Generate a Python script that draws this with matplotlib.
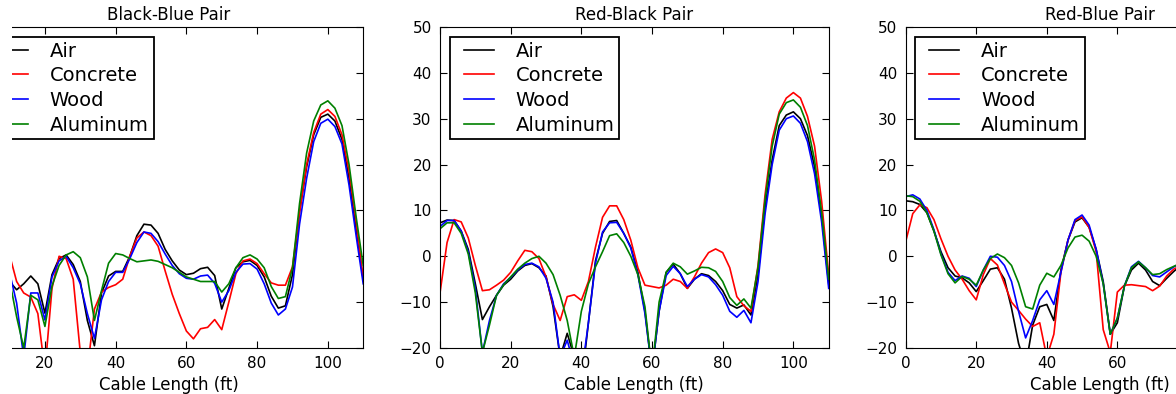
import matplotlib
matplotlib.use("Agg")
import matplotlib.pyplot as plt
from matplotlib.lines import Line2D
from matplotlib.legend_handler import HandlerLine2D
from matplotlib.patches import Rectangle


# legend labels and line colours (old matplotlib "classic" look)
MATERIALS = ["Air", "Concrete", "Wood", "Aluminum"]
COLORS = ["k", "r", "b", (0.0, 0.5, 0.0)]

# ---- Black-Blue Pair (left panel, cut at the left edge) ----
ft_black_blue = list(range(10, 111, 2))
bb_air = [-5.5, -7.3, -6.0, -4.3, -6.0, -12.4, -4.0, -0.5, 0.3, -1.8,
          -5.5, -14.0, -19.5, -8.0, -4.3, -3.3, -3.3, 0.0, 4.5, 7.0,
          6.8, 5.0, 1.5, -1.0, -3.0, -4.0, -3.7, -2.7, -2.4, -4.2,
          -11.5, -7.0, -2.5, -1.2, -0.9, -2.0, -4.5, -8.7, -11.3, -10.8,
          -4.0, 9.8, 19.5, 26.5, 30.3, 31.0, 29.5, 25.5, 17.0, 6.0, -5.0]
bb_concrete = [0.3, -5.5, -8.0, -8.9, -12.5, -25.0, -7.0, 0.0, -0.5, -5.0,
               -21.0, -25.0, -11.5, -7.8, -6.8, -6.2, -5.0, 0.0, 4.0, 5.3,
               4.5, 2.2, -3.2, -8.3, -12.5, -16.3, -18.0, -15.8, -15.5, -13.8,
               -16.0, -10.0, -3.8, -1.0, -0.6, -1.6, -3.8, -5.8, -6.3, -6.3,
               -2.3, 9.5, 20.0, 27.0, 31.0, 32.0, 30.5, 26.5, 18.5, 7.5, -5.0]
bb_wood = [-3.5, -10.2, -22.0, -8.0, -8.0, -13.9, -4.5, -1.0, 0.0, -2.5,
           -6.0, -12.5, -17.9, -9.5, -5.5, -3.5, -3.5, -0.5, 3.0, 5.3,
           5.0, 3.2, 0.5, -2.0, -3.8, -4.8, -5.0, -4.3, -4.1, -5.9,
           -10.0, -7.5, -3.5, -1.7, -1.6, -2.8, -6.0, -10.2, -12.8, -11.5,
           -6.7, 7.0, 17.0, 25.0, 29.0, 29.9, 28.3, 24.5, 15.5, 4.5, -6.0]
bb_aluminum = [-5.2, -13.2, -20.0, -8.5, -9.5, -15.3, -6.5, -2.0, 0.3, 1.0,
               -0.3, -4.5, -14.0, -7.5, -1.5, 0.6, 0.3, -0.5, -1.2, -1.0,
               -0.8, -1.1, -1.8, -2.5, -3.5, -4.5, -5.0, -5.5, -5.5, -5.5,
               -7.8, -6.0, -2.5, -0.3, 0.3, -0.6, -2.5, -6.6, -9.2, -8.8,
               -2.5, 11.5, 22.5, 29.5, 33.0, 33.9, 32.3, 28.5, 20.0, 8.6, -2.0]

# ---- Red-Black Pair (middle panel) ----
ft_red_black = list(range(0, 111, 2))
rb_air = [7.3, 7.9, 7.8, 5.5, 1.5, -6.0, -13.8, -11.0, -8.5, -6.3,
          -5.0, -3.2, -2.0, -1.6, -2.5, -4.3, -11.0, -22.0, -16.8, -22.0,
          -28.0, -14.5, -1.0, 5.0, 7.6, 7.8, 5.0, 2.0, -3.5, -12.0,
          -25.0, -12.0, -3.5, -1.7, -3.8, -7.0, -5.0, -3.8, -4.2, -5.5,
          -7.5, -10.5, -11.3, -10.6, -12.8, -4.0, 10.8, 21.0, 28.5, 30.8,
          31.5, 30.0, 26.3, 19.5, 9.0, -6.0]
rb_concrete = [-8.0, 3.0, 8.0, 7.5, 4.0, -2.0, -7.5, -7.3, -6.3, -5.2,
               -3.5, -1.0, 1.3, 1.0, -0.5, -4.5, -10.5, -14.0, -8.8, -8.4,
               -9.6, -5.5, 2.0, 8.5, 11.0, 11.0, 8.0, 3.5, -2.5, -6.3,
               -6.6, -6.9, -6.3, -5.0, -5.5, -7.0, -4.5, -1.5, 0.8, 1.6,
               0.8, -2.5, -8.8, -10.8, -12.0, -2.0, 13.5, 25.5, 31.5, 34.5,
               35.7, 34.5, 30.5, 24.0, 12.0, -4.0]
rb_wood = [6.5, 7.8, 7.8, 5.5, 1.0, -7.0, -21.0, -14.0, -8.5, -6.0,
           -4.6, -3.0, -1.8, -1.5, -2.3, -4.8, -10.0, -22.0, -18.3, -24.0,
           -26.0, -14.5, -1.5, 5.3, 7.3, 7.4, 5.0, 1.8, -4.0, -12.5,
           -25.0, -12.0, -4.2, -2.2, -3.8, -6.6, -5.0, -4.0, -4.5, -6.2,
           -8.5, -12.0, -13.3, -11.8, -14.5, -5.5, 9.3, 20.0, 27.5, 30.0,
           30.6, 29.0, 25.0, 18.0, 7.5, -7.0]
rb_aluminum = [6.0, 7.3, 7.3, 5.0, 0.5, -8.0, -21.0, -15.0, -8.5, -6.2,
               -4.5, -2.8, -1.5, -0.5, 0.0, -1.5, -4.0, -8.5, -14.0, -22.0,
               -12.0, -6.0, -2.3, 1.0, 4.5, 4.9, 3.0, 0.0, -4.0, -11.0,
               -25.0, -10.0, -3.5, -1.5, -2.3, -3.9, -3.2, -2.4, -2.5, -3.3,
               -5.5, -9.0, -10.7, -9.3, -11.3, -2.4, 12.3, 24.0, 31.0, 33.5,
               34.1, 32.5, 28.5, 21.0, 9.5, -5.0]

# ---- Red-Blue Pair (right panel, cut at the right edge) ----
ft_red_blue = list(range(0, 79, 2))
rbl_air = [12.1, 11.9, 11.3, 9.5, 5.5, 1.0, -2.5, -4.3, -4.7, -5.8,
           -7.7, -5.3, -2.8, -2.5, -5.0, -11.3, -19.0, -24.0, -15.0, -11.0,
           -10.5, -14.0, -3.0, 3.5, 7.5, 8.4, 6.3, 1.5, -5.5, -17.0,
           -14.5, -6.5, -3.0, -1.5, -3.0, -5.5, -6.4, -4.8, -3.3, -2.0]
rbl_concrete = [3.2, 9.3, 11.2, 10.6, 8.0, 3.8, 0.0, -3.0, -5.0, -7.5,
                -9.5, -4.0, -0.5, -1.9, -6.0, -10.0, -11.8, -13.7, -15.3, -14.5,
                -22.0, -17.0, -3.5, 3.5, 7.8, 8.6, 6.3, 1.0, -16.0, -21.0,
                -7.8, -6.3, -6.2, -6.4, -6.6, -7.5, -6.5, -4.3, -2.8, -2.0]
rbl_wood = [13.0, 13.4, 12.5, 10.0, 5.8, 0.5, -3.5, -5.3, -4.3, -4.8,
            -6.6, -3.0, 0.0, -0.2, -2.0, -5.5, -12.0, -17.8, -14.0, -9.5,
            -7.5, -10.5, -3.5, 3.5, 8.0, 9.0, 6.8, 1.5, -6.0, -17.0,
            -13.5, -6.5, -2.3, -1.1, -2.5, -4.2, -4.5, -3.4, -2.3, -1.5]
rbl_aluminum = [13.2, 13.0, 12.0, 9.5, 5.5, 0.3, -3.8, -5.8, -4.4, -5.0,
                -6.3, -3.0, -0.5, 0.5, -0.3, -2.0, -5.8, -11.0, -11.5, -6.3,
                -3.7, -4.5, -2.0, 1.8, 4.2, 4.6, 3.3, 0.0, -6.0, -17.0,
                -13.5, -6.5, -2.5, -1.2, -2.5, -4.0, -3.8, -2.9, -2.2, -1.5]

X_TICKS = [0, 20, 40, 60, 80, 100]
Y_TICKS = [-20, -10, 0, 10, 20, 30, 40, 50]


def draw_panel(fig, rect, ft, series, title, show_left=True, x_labels=X_TICKS):

    ax = fig.add_axes(rect)

    lines = []
    for values, color in zip(series, COLORS):
        line, = ax.plot(ft, values, color=color, lw=1.2)
        lines.append(line)

    ax.set_xlim(0, 110)
    ax.set_ylim(-20, 50)
    ax.set_xticks(X_TICKS)
    ax.set_xticklabels([str(t) if t in x_labels else "" for t in X_TICKS])
    ax.set_yticks(Y_TICKS)

    ax.tick_params(direction="in", top=True, right=True,
                   length=5, pad=6, labelsize=11, labelleft=show_left)
    ax.set_title(title, fontsize=12, pad=5)
    ax.set_xlabel("Cable Length (ft)", fontsize=12, labelpad=3)

    # line handle pushed right inside its box, like the old legend
    leg = ax.legend(lines, MATERIALS, loc="upper left",
                    fontsize=14, fancybox=False, framealpha=1,
                    edgecolor="k", borderaxespad=0.5, borderpad=0.25,
                    handlelength=2.01, handletextpad=1.13,
                    labelspacing=0.29,
                    handler_map={Line2D: HandlerLine2D(xpad=0.47)})
    leg.get_frame().set_linewidth(1.3)

    return ax


fig = plt.figure(figsize=(11.76, 3.94), dpi=100)
W, H = 1176.0, 394.0
bottom = (H - 348) / H
height = 321 / H

draw_panel(fig, [-25.8 / W, bottom, 389 / W, height], ft_black_blue,
           [bb_air, bb_concrete, bb_wood, bb_aluminum], "Black-Blue Pair",
           show_left=False, x_labels=[20, 40, 60, 80, 100])
draw_panel(fig, [440 / W, bottom, 388.7 / W, height], ft_red_black,
           [rb_air, rb_concrete, rb_wood, rb_aluminum], "Red-Black Pair")
draw_panel(fig, [905.7 / W, bottom, 388 / W, height], ft_red_blue,
           [rbl_air, rbl_concrete, rbl_wood, rbl_aluminum], "Red-Blue Pair",
           x_labels=[0, 20, 40, 60])

# the source image is cropped: blank strip on the far left
fig.add_artist(Rectangle((0, 0), 11.5 / W, 1, transform=fig.transFigure,
                         facecolor="white", edgecolor="none", zorder=10))

fig.savefig("out.png", dpi=100, facecolor="white")
